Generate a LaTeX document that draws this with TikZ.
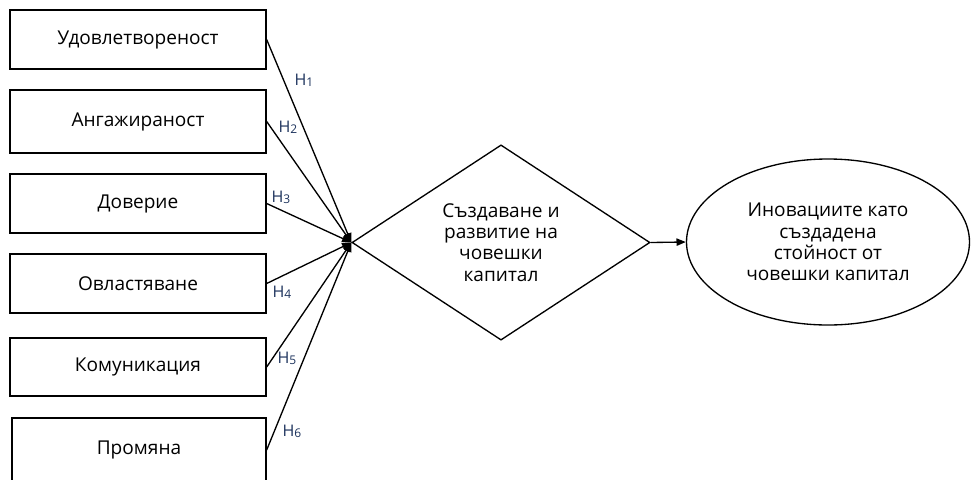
\documentclass[tikz,border=0pt]{standalone}
\usepackage{fontspec}
\setmainfont{Open Sans}
\usetikzlibrary{shapes.geometric,arrows.meta}
\definecolor{hlabel}{RGB}{28,50,92}
\newcommand{\hyp}[1]{H\raisebox{-0.8pt}{\fontsize{9}{10}\selectfont #1}}

\begin{document}
\begin{tikzpicture}[x=0.75pt,y=0.75pt,yscale=-1,xscale=1,
	factor/.style={draw,line width=1pt,minimum width=192pt,inner sep=0pt,font=\fontsize{14.3}{16}\selectfont},
	link/.style={line width=1pt,-{Triangle[length=7pt,width=5.5pt]}},
	hlab/.style={inner sep=0.75pt,text=hlabel,font=\fontsize{12}{14}\selectfont}]
	\useasboundingbox (0,0) rectangle (971,479);

	%Shapes: factor boxes
	\node [factor,minimum height=44.25pt] (udov) at (138,39.5) {Удовлетвореност};
	\node [factor,minimum height=47.25pt] (anga) at (138,121.5) {Ангажираност};
	\node [factor,minimum height=44.25pt] (dove) at (138,203.5) {Доверие};
	\node [factor,minimum height=44.25pt] (ovla) at (138,283.5) {Овластяване};
	\node [factor,minimum height=43.5pt] (komu) at (138,367) {Комуникация};
	\node [factor,minimum height=48pt,minimum width=190.5pt] (prom) at (139,450) {Промяна};

	%Shape: Diamond
	\node [draw,diamond,line width=1pt,minimum width=223.5pt,minimum height=146.25pt,inner sep=0pt,align=center,font=\fontsize{14.3}{16}\selectfont] (kapital) at (501,242.5) {Създаване и\\развитие на\\човешки\\капитал};
	%Shape: Ellipse
	\node [draw,ellipse,line width=1pt,minimum width=212.25pt,minimum height=124.5pt,inner sep=0pt,align=center,font=\fontsize{14.3}{16}\selectfont] (inov) at (828,242) {Иновациите като\\създадена\\стойност от\\човешки капитал};

	%Straight Lines
	\draw [link] (udov.east) -- (kapital.west);
	\draw [link] (anga.east) -- (kapital.west);
	\draw [link] (dove.east) -- (kapital.west);
	\draw [link] (ovla.east) -- (kapital.west);
	\draw [link] (komu.east) -- (kapital.west);
	\draw [link] (prom.east) -- (kapital.west);
	\draw [link] (kapital.east) -- (inov.west);

	% Text Node
	\node [hlab] (h1) at (304,80) {\hyp{1}};
	% Text Node
	\node [hlab] (h2) at (288,127) {\hyp{2}};
	% Text Node
	\node [hlab] (h3) at (281,197) {\hyp{3}};
	% Text Node
	\node [hlab] (h4) at (282,292) {\hyp{4}};
	% Text Node
	\node [hlab] (h5) at (287,358) {\hyp{5}};
	% Text Node
	\node [hlab] (h6) at (292,431) {\hyp{6}};

\end{tikzpicture}
\end{document}
